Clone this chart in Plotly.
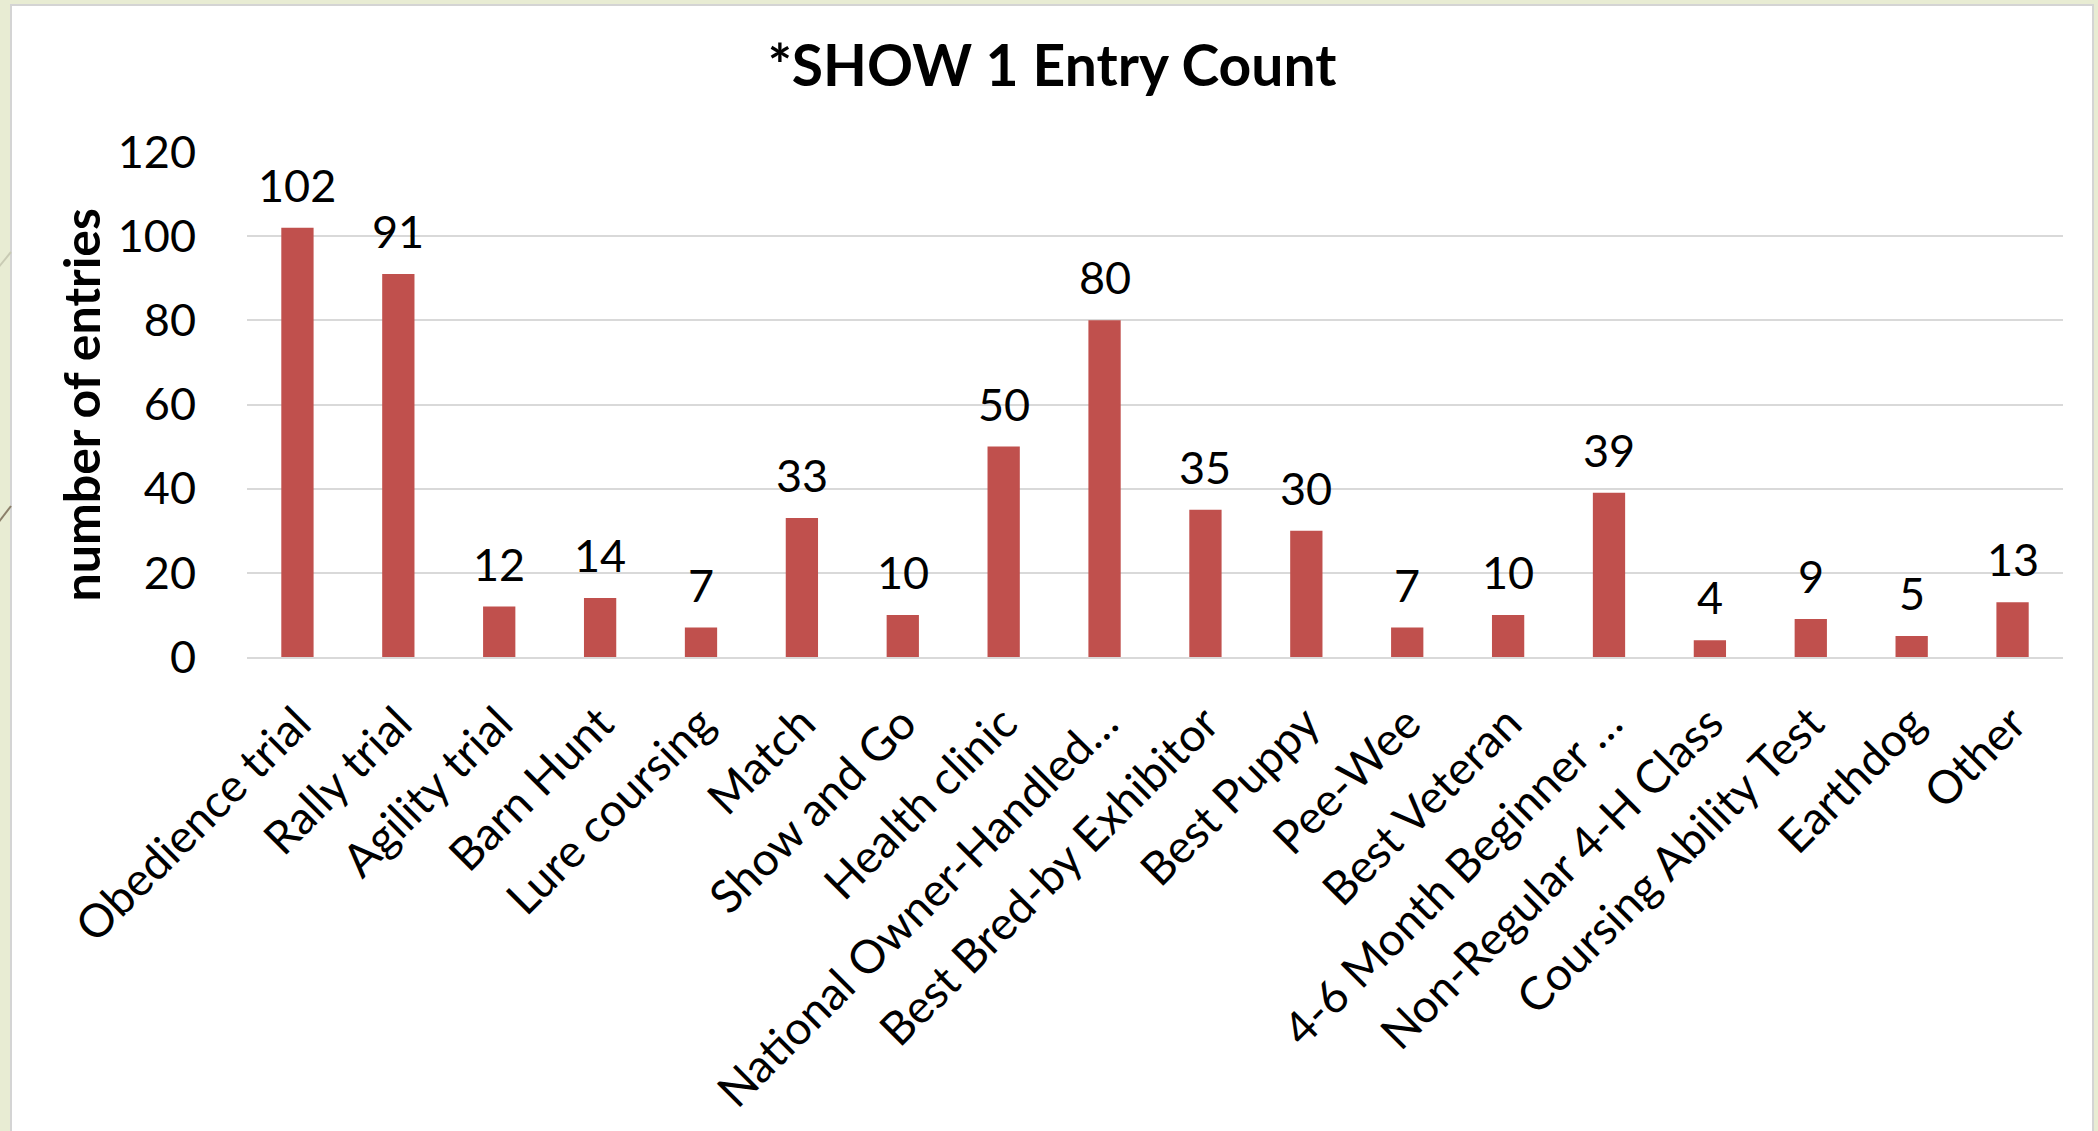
import plotly.graph_objects as go

# Entry counts per event type for show 1
categories = [
    "Obedience trial", "Rally trial", "Agility trial", "Barn Hunt",
    "Lure coursing", "Match", "Show and Go", "Health clinic",
    "National Owner-Handled…", "Best Bred-by Exhibitor", "Best Puppy",
    "Pee-Wee", "Best Veteran", "4-6 Month Beginner …",
    "Non-Regular 4-H Class", "Coursing Ability Test", "Earthdog", "Other",
]
entries = [102, 91, 12, 14, 7, 33, 10, 50, 80, 35, 30, 7, 10, 39, 4, 9, 5, 13]

y_ticks = [0, 20, 40, 60, 80, 100, 120]

W, H = 2098, 1131
ML, MR, MT, MB = 247, 35, 152, 474
PW, PH = W - ML - MR, H - MT - MB

FONT = "Lato"
BAR_COLOR = "#C0504D"
GRID = "#D9D9D9"
FRAME_BG = "#E8ECD3"


def px_x(px):
    return (px - ML) / PW


def px_y(py):
    return 1 - (py - MT) / PH


fig = go.Figure(
    go.Bar(
        x=categories,
        y=entries,
        marker=dict(color=BAR_COLOR, line=dict(width=0)),
        width=0.32,
        hoverinfo="x+y",
    )
)

# value labels above each bar
annotations = [
    dict(
        x=c, y=v, xref="x", yref="y", text=str(v), showarrow=False,
        yanchor="bottom", yshift=14,
        font=dict(family=FONT, size=45, color="black"),
    )
    for c, v in zip(categories, entries)
]

# vertical axis title
annotations.append(dict(
    x=px_x(80), y=0.5, xref="paper", yref="paper", text="<b>number of entries</b>",
    textangle=-90, showarrow=False, xanchor="center", yanchor="middle",
    font=dict(family=FONT, size=50, color="black"),
))

shapes = [
    # white chart panel on the slide background
    dict(type="rect", xref="paper", yref="paper", layer="below",
         x0=px_x(11), x1=px_x(2093), y0=px_y(1140), y1=px_y(5),
         fillcolor="white", line=dict(color="#D4D4D4", width=2)),
    # slide decoration strokes in the left margin
    dict(type="line", xref="paper", yref="paper", layer="below",
         x0=px_x(-2), y0=px_y(268), x1=px_x(11), y1=px_y(252),
         line=dict(color="#C9CBB4", width=2)),
    dict(type="line", xref="paper", yref="paper", layer="below",
         x0=px_x(-2), y0=px_y(523), x1=px_x(11), y1=px_y(506),
         line=dict(color="#8C806A", width=2)),
]

fig.update_layout(
    width=W, height=H,
    margin=dict(l=ML, r=MR, t=MT, b=MB, pad=0, autoexpand=False),
    paper_bgcolor=FRAME_BG,
    plot_bgcolor="rgba(0,0,0,0)",
    showlegend=False,
    bargap=0.68,
    title=dict(
        text="<b>*SHOW 1 Entry Count</b>",
        x=px_x(1052), xref="paper", xanchor="center",
        y=1 - 66 / H, yref="container", yanchor="middle",
        font=dict(family=FONT, size=57, color="black"),
    ),
    xaxis=dict(
        type="category",
        automargin=False,
        tickangle=-45,
        tickfont=dict(family=FONT, size=46, color="black"),
        showgrid=False,
        showline=True, linecolor=GRID, linewidth=2,
        ticks="", ticklabelstandoff=19,
        zeroline=False,
    ),
    yaxis=dict(
        automargin=False,
        range=[0, 120],
        tickvals=y_ticks,
        ticktext=[str(t) for t in y_ticks],
        tickfont=dict(family=FONT, size=45, color="black"),
        showgrid=True, gridcolor=GRID, gridwidth=2,
        zeroline=False, showline=False,
        ticks="", ticklabelstandoff=50,
    ),
    annotations=annotations,
    shapes=shapes,
)

fig.write_html("out.html")
